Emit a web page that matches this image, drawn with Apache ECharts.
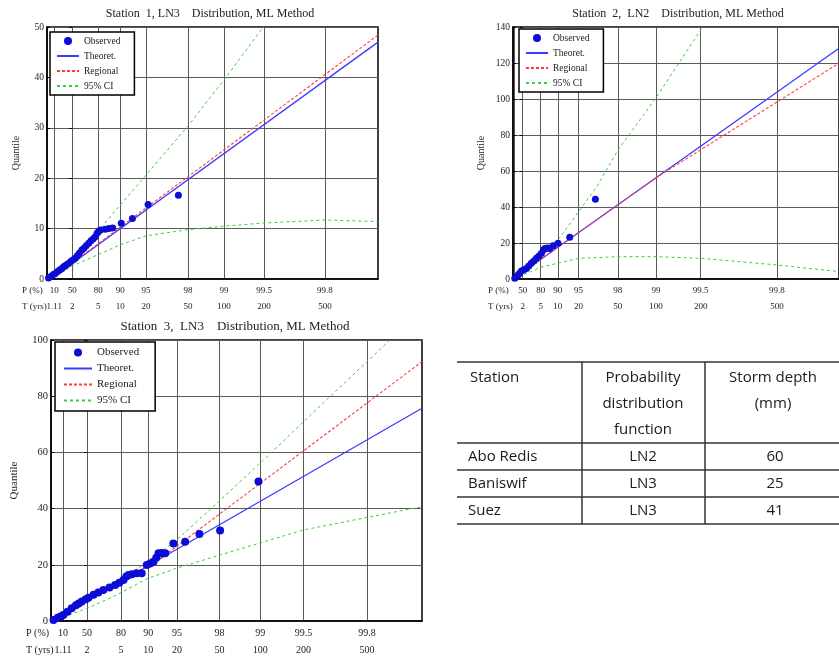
<!DOCTYPE html>
<html>
<head>
<meta charset="utf-8">
<title>Station quantile plots</title>
<script src="https://cdn.jsdelivr.net/npm/echarts@6/dist/echarts.min.js"></script>
<style>
  html, body { margin: 0; padding: 0; background: #fff; }
  #chart { width: 839px; height: 660px; }
</style>
</head>
<body>
<div id="chart"></div>
<script>
// x = reduced variate of the fitted distribution (P=50% -> 0, P=99.8% -> 10)
var pLabels = ['10', '50', '80', '90', '95', '98', '99', '99.5', '99.8'];
var tLabels = ['1.11', '2', '5', '10', '20', '50', '100', '200', '500'];

var st1Ticks = [-0.71, 0, 1.03, 1.90, 2.92, 4.58, 6.01, 7.59, 10];
var st2Ticks = [-0.35, 0, 0.71, 1.38, 2.2, 3.74, 5.24, 7.0, 10];
var st3Ticks = [-0.86, 0, 1.21, 2.18, 3.21, 4.73, 6.18, 7.73, 10];

// station 1 (LN3)
var st1ObsX = [-0.94, -0.85, -0.75, -0.67, -0.58, -0.5, -0.41, -0.33, -0.24, -0.15, -0.05, 0.04, 0.12, 0.2, 0.28, 0.38,
  0.46, 0.55, 0.65, 0.74, 0.83, 0.91, 0.98, 1.04, 1.11, 1.3, 1.45, 1.6, 1.94, 2.38, 3.0, 4.2];
var st1ObsY = [0.2, 0.5, 0.9, 1.1, 1.5, 1.8, 2.1, 2.5, 2.8, 3.1, 3.5, 3.8, 4.1, 4.6, 5.1, 5.75,
  6.1, 6.6, 7.1, 7.6, 8.0, 8.4, 9.1, 9.4, 9.7, 9.85, 10.0, 10.1, 11.05, 12.0, 14.8, 16.6];
var st1Theo = [[-0.85, 0], [12.1, 47.0]];
var st1Reg = [[-0.85, 0], [12.1, 48.4]];
var st1CiUp = [[-0.85, 0], [0, 3.8], [1.05, 9.7], [2.9, 20.5], [4.6, 30.5], [6.05, 39.8], [7.6, 50.3]];
var st1CiLo = [[-0.85, 0], [0, 2.6], [1.1, 5.0], [1.96, 6.9], [2.95, 8.6], [4.6, 9.8], [6.05, 10.5], [7.56, 11.1], [10, 11.7], [12.1, 11.4]];

// station 2 (LN2)
var st2ObsX = [-0.31, -0.24, -0.18, -0.12, -0.05, 0.05, 0.15, 0.24, 0.34, 0.44, 0.54, 0.64, 0.74, 0.82, 0.87, 0.97, 1.06, 1.2, 1.39, 1.85, 2.86];
var st2ObsY = [0.4, 1.2, 2.2, 3.2, 4.4, 5.2, 5.9, 7.2, 8.7, 10, 11.5, 12.8, 14.3, 16.2, 17, 17.2, 17, 18.5, 19.8, 23.2, 44.3];
var st2Theo = [[-0.38, 0], [12.44, 128.2]];
var st2Reg = [[-0.38, 0], [5.26, 56.4], [12.44, 119.9]];
var st2CiUp = [[-0.38, 0], [0.3, 8], [0.8, 13.5], [1.39, 21.7], [2.9, 51], [3.75, 71.7], [5.26, 101], [7.1, 140.5]];
var st2CiLo = [[-0.38, 0], [0.3, 4], [0.7, 6.5], [1.36, 8.7], [2.24, 11.5], [3.75, 12.4], [5.26, 12.4], [7.03, 11.5], [9.99, 7.8], [12.44, 4.1]];

// station 3 (LN3)
var st3ObsX = [-1.2, -1.05, -0.95, -0.85, -0.7, -0.55, -0.4, -0.3, -0.19, -0.05, 0.05, 0.23, 0.4, 0.58, 0.8, 1.0, 1.15, 1.3,
  1.4, 1.48, 1.6, 1.77, 1.95, 2.13, 2.25, 2.37, 2.47, 2.55, 2.67, 2.79, 3.08, 3.5, 4.01, 4.75, 6.12];
var st3ObsY = [0.4, 1.2, 1.6, 2.1, 3.3, 4.5, 5.6, 6.2, 6.9, 7.7, 8.3, 9.3, 10.1, 11, 11.9, 12.8, 13.6, 14.6,
  15.8, 16.4, 16.6, 17, 17, 19.9, 20.5, 21.1, 22.5, 24.1, 24.2, 24.1, 27.6, 28.2, 31, 32.2, 49.6];
var st3Theo = [[-1.25, 0], [11.96, 75.7]];
var st3Reg = [[-1.25, 0], [2.6, 22.1], [11.96, 92.3]];
var st3CiUp = [[-1.25, 0], [0.5, 10.5], [2.0, 20.0], [3.2, 28.8], [4.75, 43], [6.3, 57.3], [8.0, 73.5], [10.85, 100.3]];
var st3CiLo = [[-1.25, 0], [0, 4.5], [1, 9], [2.13, 15.0], [3.2, 18.8], [4.75, 23.5], [7.73, 32.4], [11.96, 40.7]];

// table
var tblHeader = ['Station', 'Probability\ndistribution\nfunction', 'Storm depth\n(mm)'];
var tblStation = ['Abo Redis', 'Baniswif', 'Suez'];
var tblDist = ['LN2', 'LN3', 'LN3'];
var tblDepth = [60, 25, 41];

var serif = 'Liberation Serif';
var panels = [
  { title: 'Station  1, LN3    Distribution, ML Method', ticks: st1Ticks, obsX: st1ObsX, obsY: st1ObsY,
    theo: st1Theo, reg: st1Reg, up: st1CiUp, lo: st1CiLo,
    left: 47, top: 27, width: 331, height: 252, xMin: -1.0, xMax: 12.1, yMax: 50, yStep: 10,
    titleX: 210, titleY: 8, titleFs: 12, fs: 9.5, nameGap: 26, labLine: 16, legend: [50, 32], lgFs: 9.5, lgW: 22, lgGap: 5, lgPad: [4, 14, 4, 6] },
  { title: 'Station  2,  LN2    Distribution, ML Method', ticks: st2Ticks, obsX: st2ObsX, obsY: st2ObsY,
    theo: st2Theo, reg: st2Reg, up: st2CiUp, lo: st2CiLo,
    left: 513, top: 27, width: 326, height: 252, xMin: -0.38, xMax: 12.44, yMax: 140, yStep: 20,
    titleX: 678, titleY: 8, titleFs: 12, fs: 9.5, nameGap: 27, labLine: 16, legend: [519, 29], lgFs: 9.5, lgW: 22, lgGap: 5, lgPad: [4, 14, 4, 6] },
  { title: 'Station  3,  LN3    Distribution, ML Method', ticks: st3Ticks, obsX: st3ObsX, obsY: st3ObsY,
    theo: st3Theo, reg: st3Reg, up: st3CiUp, lo: st3CiLo,
    left: 51, top: 340, width: 371, height: 281, xMin: -1.29, xMax: 11.96, yMax: 100, yStep: 20,
    titleX: 235, titleY: 320, titleFs: 13, fs: 10.5, nameGap: 31, labLine: 17, legend: [55, 342], lgFs: 11, lgW: 28, lgGap: 5, lgPad: [5, 16, 5, 8] }
];

var hideDot = { color: 'rgba(0,0,0,0)', borderWidth: 0 };

var option = {
  animation: false,
  backgroundColor: '#fff',
  title: [], grid: [], xAxis: [], yAxis: [], legend: [], series: [], graphic: []
};

panels.forEach(function (p, i) {
  option.title.push({
    text: p.title, left: p.titleX, top: p.titleY, textAlign: 'center', padding: 0,
    textStyle: { fontFamily: serif, fontSize: p.titleFs, fontWeight: 'normal', color: '#222' }
  });
  option.grid.push({
    left: p.left, top: p.top, width: p.width, height: p.height,
    show: true, borderColor: '#000', borderWidth: 1.5, backgroundColor: 'transparent'
  });
  option.xAxis.push({
    type: 'value', gridIndex: i, min: p.xMin, max: p.xMax,
    axisLine: { show: true, onZero: false, lineStyle: { color: '#000', width: 1.5 } },
    axisTick: { show: false, customValues: p.ticks },
    axisLabel: {
      customValues: p.ticks, margin: 4, lineHeight: p.labLine,
      fontFamily: serif, fontSize: p.fs - 0.5, color: '#222',
      formatter: function (v) {
        var k = p.ticks.indexOf(v);
        return pLabels[k] + '\n' + tLabels[k];
      }
    },
    splitLine: { show: true, lineStyle: { color: '#5a5a5a', width: 1 } }
  });
  option.yAxis.push({
    type: 'value', gridIndex: i, min: 0, max: p.yMax, interval: p.yStep,
    name: 'Quantile', nameLocation: 'middle', nameGap: p.nameGap,
    nameTextStyle: { fontFamily: serif, fontSize: p.fs + 0.5, color: '#222' },
    axisLine: { show: true, onZero: false, lineStyle: { color: '#000', width: 1.5 } },
    axisTick: { show: true, inside: true, length: 3, lineStyle: { color: '#000' } },
    axisLabel: { margin: 3, fontFamily: serif, fontSize: p.fs, color: '#222' },
    splitLine: { show: true, lineStyle: { color: '#5a5a5a', width: 1 } }
  });
  option.legend.push({
    orient: 'vertical', left: p.legend[0], top: p.legend[1],
    padding: p.lgPad, itemGap: p.lgGap, itemWidth: p.lgW, itemHeight: 8,
    backgroundColor: '#fff', borderColor: '#000', borderWidth: 1.5, borderRadius: 0,
    selectedMode: false,
    textStyle: { fontFamily: serif, fontSize: p.lgFs, color: '#222' },
    data: [
      { name: 'Observed' },
      { name: 'Theoret.', itemStyle: hideDot },
      { name: 'Regional', itemStyle: hideDot },
      { name: '95% CI', itemStyle: hideDot }
    ]
  });

  var obs = p.obsX.map(function (x, k) { return [x, p.obsY[k]]; });
  option.series.push(
    { name: 'Theoret.', type: 'line', xAxisIndex: i, yAxisIndex: i, data: p.theo, symbol: 'none',
      lineStyle: { color: '#3b3bff', width: 1.3 }, itemStyle: { color: '#3b3bff' }, z: 4 },
    { name: 'Regional', type: 'line', xAxisIndex: i, yAxisIndex: i, data: p.reg, symbol: 'none',
      lineStyle: { color: '#ff3b3b', width: 1.1, type: [3, 2] }, itemStyle: { color: '#ff3b3b' }, z: 4 },
    { name: '95% CI', type: 'line', xAxisIndex: i, yAxisIndex: i, data: p.up, symbol: 'none',
      lineStyle: { color: '#3ccf3c', width: 1, type: [3, 3] }, itemStyle: { color: '#3ccf3c' }, z: 3 },
    { name: '95% CI', type: 'line', xAxisIndex: i, yAxisIndex: i, data: p.lo, symbol: 'none',
      lineStyle: { color: '#3ccf3c', width: 1, type: [3, 3] }, itemStyle: { color: '#3ccf3c' }, z: 3 },
    { name: 'Observed', type: 'scatter', xAxisIndex: i, yAxisIndex: i, data: obs,
      symbol: 'circle', symbolSize: i === 2 ? 8 : 7, itemStyle: { color: '#0c0cd6', opacity: 1 }, z: 5 }
  );

  // "P (%)" / "T (yrs)" row headers under each plot
  var rowY = p.top + p.height + 4 + p.labLine / 2;
  var hx = p.left - 25;
  option.graphic.push(
    { type: 'text', x: hx, y: rowY, style: { text: 'P (%)', fontFamily: serif, fontSize: p.fs - 0.5, fill: '#222', verticalAlign: 'middle' } },
    { type: 'text', x: hx, y: rowY + p.labLine, style: { text: 'T (yrs)', fontFamily: serif, fontSize: p.fs - 0.5, fill: '#222', verticalAlign: 'middle' } }
  );
});

// right-hand tick marks on each frame
panels.forEach(function (p, i) {
  option.yAxis.push({
    type: 'value', gridIndex: i, position: 'right', min: 0, max: p.yMax, interval: p.yStep,
    axisLine: { show: false }, axisLabel: { show: false }, splitLine: { show: false },
    axisTick: { show: true, inside: true, length: 3, lineStyle: { color: '#000' } }
  });
});

// table on the right
var tblLeft = 457, tblRight = 839, colX = [582, 705];
var rowLines = [362, 443, 470, 497, 524];
var tblFont = '15px "Open Sans"';
rowLines.forEach(function (y) {
  option.graphic.push({ type: 'line', shape: { x1: tblLeft, y1: y, x2: tblRight, y2: y }, style: { stroke: '#333', lineWidth: 1.5 } });
});
colX.forEach(function (x) {
  option.graphic.push({ type: 'line', shape: { x1: x, y1: rowLines[0], x2: x, y2: rowLines[4] }, style: { stroke: '#333', lineWidth: 1.5 } });
});
var colCenters = [null, 643, 773];
option.graphic.push(
  { type: 'text', x: 470, y: 365, style: { text: tblHeader[0], font: tblFont, fill: '#1a1a1a', lineHeight: 26, verticalAlign: 'top' } },
  { type: 'text', x: colCenters[1], y: 365, style: { text: tblHeader[1], font: tblFont, fill: '#1a1a1a', lineHeight: 26, align: 'center', verticalAlign: 'top' } },
  { type: 'text', x: colCenters[2], y: 365, style: { text: tblHeader[2], font: tblFont, fill: '#1a1a1a', lineHeight: 26, align: 'center', verticalAlign: 'top' } }
);
tblStation.forEach(function (s, k) {
  var yMid = (rowLines[k + 1] + rowLines[k + 2]) / 2;
  option.graphic.push(
    { type: 'text', x: 468, y: yMid, style: { text: s, font: tblFont, fill: '#1a1a1a', verticalAlign: 'middle' } },
    { type: 'text', x: colCenters[1], y: yMid, style: { text: tblDist[k], font: tblFont, fill: '#1a1a1a', align: 'center', verticalAlign: 'middle' } },
    { type: 'text', x: colCenters[2] + 2, y: yMid, style: { text: String(tblDepth[k]), font: tblFont, fill: '#1a1a1a', align: 'center', verticalAlign: 'middle' } }
  );
});

var chartObj = echarts.init(document.getElementById('chart'));
chartObj.setOption(option);
window.addEventListener('resize', function () { chartObj.resize(); });
</script>
</body>
</html>
